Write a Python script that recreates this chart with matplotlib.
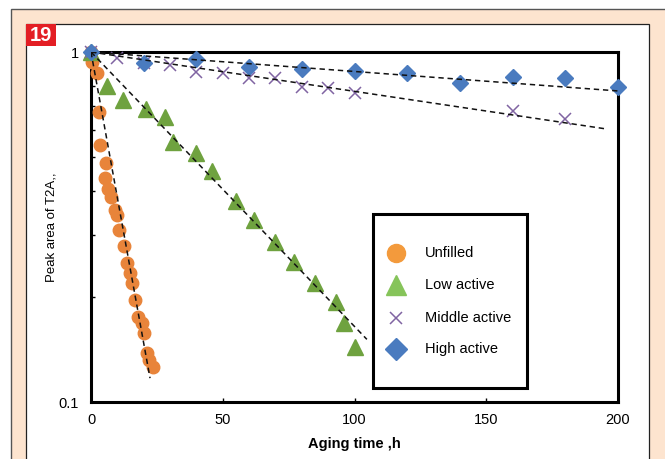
import matplotlib
matplotlib.use("Agg")
import matplotlib.pyplot as plt
from matplotlib.patches import Rectangle
from matplotlib.ticker import FixedLocator, FuncFormatter, LogLocator, NullFormatter

plt.rcParams["font.family"] = ["Liberation Sans", "DejaVu Sans"]

# ---- data: relative peak area of T2A vs aging time (h) ----
unfilled_t = [0, 0.5, 2.3, 3.0, 3.4, 5.7, 5.3, 6.5, 7.6, 9.1, 9.9, 10.6, 12.5,
              13.7, 14.8, 15.6, 16.7, 17.8, 19.4, 20.1, 21.3, 22.0, 23.5]
unfilled_v = [1.0, 0.936, 0.871, 0.674, 0.542, 0.482, 0.437, 0.406, 0.385,
              0.354, 0.342, 0.310, 0.279, 0.249, 0.234, 0.219, 0.196, 0.175,
              0.168, 0.157, 0.138, 0.132, 0.126]

low_t = [0, 6, 12, 21, 28, 31, 40, 46, 55, 62, 70, 77, 85, 93, 96, 100]
low_v = [1.0, 0.80, 0.729, 0.687, 0.652, 0.553, 0.515, 0.457, 0.375, 0.331,
         0.286, 0.251, 0.219, 0.193, 0.168, 0.144]

mid_t = [0, 10, 20, 30, 40, 50, 60, 70, 80, 90, 100, 160, 180]
mid_v = [1.0, 0.961, 0.93, 0.918, 0.877, 0.871, 0.843, 0.843, 0.794, 0.789,
         0.764, 0.678, 0.644]

high_t = [0, 20, 40, 60, 80, 100, 120, 140, 160, 180, 200]
high_v = [1.0, 0.930, 0.955, 0.906, 0.894, 0.882, 0.871, 0.815, 0.848, 0.843,
          0.794]

# exponential fits (straight on the log axis): start / end points
unfilled_fit_t, unfilled_fit_v = [0, 22.4], [1.0, 0.117]
low_fit_t, low_fit_v = [0, 104.7], [1.0, 0.151]
mid_fit_t, mid_fit_v = [0, 195.4], [1.0, 0.603]
high_fit_t, high_fit_v = [0, 200], [1.0, 0.774]

series_names = ["Unfilled", "Low active", "Middle active", "High active"]
x_ticks = [0, 50, 100, 150, 200]
y_ticks = [0.1, 1]

ORANGE = "#E8843A"
GREEN = "#6FA23F"
PURPLE = "#8064A2"
BLUE = "#4A7BBF"
PEACH = "#FDE4CF"
RED = "#E31E24"

W, H = 665, 459
fig = plt.figure(figsize=(W / 100, H / 100), dpi=100)


def fx(x):
    return x / W


def fy(y):
    return 1 - y / H


# page frame: peach margin, white panel, red figure number
fig.add_artist(Rectangle((fx(11), -0.1), 1.0, fy(9) + 0.1, transform=fig.transFigure,
                         facecolor=PEACH, edgecolor="#555555", lw=1.0, zorder=-10))
fig.add_artist(Rectangle((fx(26), -0.1), fx(649) - fx(26), fy(24) + 0.1,
                         transform=fig.transFigure, facecolor="white",
                         edgecolor="#222222", lw=0.9, zorder=-9))
fig.add_artist(Rectangle((fx(26), fy(46)), fx(56) - fx(26), fy(24) - fy(46),
                         transform=fig.transFigure, facecolor=RED, edgecolor="none",
                         zorder=-8))
fig.text(fx(41), fy(35.5), "19", color="white", fontsize=14.5, fontweight="bold",
         ha="center", va="center")

ax = fig.add_axes([fx(91), fy(402), fx(618) - fx(91), fy(52) - fy(402)])
ax.set_facecolor("none")
ax.set_yscale("log")
ax.set_xlim(0, 200)
ax.set_ylim(0.1, 1)

# markers first, dashed fit lines drawn over them
ax.plot(unfilled_t, unfilled_v, "o", ms=9, color=ORANGE, mec=ORANGE, clip_on=False, zorder=3)
ax.plot(low_t, low_v, "^", ms=11, color=GREEN, mec=GREEN, clip_on=False, zorder=3)
ax.plot(mid_t, mid_v, "x", ms=9, mew=1.1, color=PURPLE, clip_on=False, zorder=3)
ax.plot(high_t, high_v, "D", ms=8, color=BLUE, mec=BLUE, clip_on=False, zorder=4)

for ft, fv in [(unfilled_fit_t, unfilled_fit_v), (low_fit_t, low_fit_v),
               (mid_fit_t, mid_fit_v), (high_fit_t, high_fit_v)]:
    ax.plot(ft, fv, color="#111111", lw=1.1, ls=(0, (3.5, 2.5)), zorder=5)

for s in ax.spines.values():
    s.set_linewidth(2.2)
    s.set_zorder(2)

ax.xaxis.set_major_locator(FixedLocator(x_ticks))
ax.tick_params(axis="x", which="major", direction="in", length=3, width=1,
               labelsize=10.5, pad=8)
ax.yaxis.set_major_locator(FixedLocator(y_ticks))
ax.yaxis.set_major_formatter(FuncFormatter(lambda v, _: f"{v:g}"))
ax.yaxis.set_minor_locator(LogLocator(base=10, subs=range(2, 10)))
ax.yaxis.set_minor_formatter(NullFormatter())
ax.tick_params(axis="y", which="major", length=0, labelsize=10.5, pad=9)
ax.tick_params(axis="y", which="minor", direction="in", length=3, width=1)

ax.set_xlabel("Aging time ,h", fontsize=10.5, fontweight="bold", labelpad=7)
ax.set_ylabel("Peak area of T2A,,", fontsize=9.5)
ax.yaxis.set_label_coords(-0.064, 0.5)

# boxed key
ax.add_patch(Rectangle((0.535, 0.04), 0.292, 0.497, transform=ax.transAxes,
                       facecolor="white", edgecolor="black", lw=2.2, zorder=6,
                       clip_on=False))
key_y = [0.426, 0.334, 0.240, 0.151]
key_style = [dict(marker="o", ms=13, color="#F39A3C"),
             dict(marker="^", ms=14, color="#86C45A"),
             dict(marker="x", ms=9, mew=1.1, color=PURPLE),
             dict(marker="D", ms=11, color=BLUE)]
for name, ky, st in zip(series_names, key_y, key_style):
    ax.plot([0.579], [ky], transform=ax.transAxes, ls="none", clip_on=False,
            zorder=7, **st)
    ax.text(0.634, ky, name, transform=ax.transAxes, fontsize=10.5,
            va="center", ha="left", zorder=7)

fig.savefig("out.png", dpi=100)
